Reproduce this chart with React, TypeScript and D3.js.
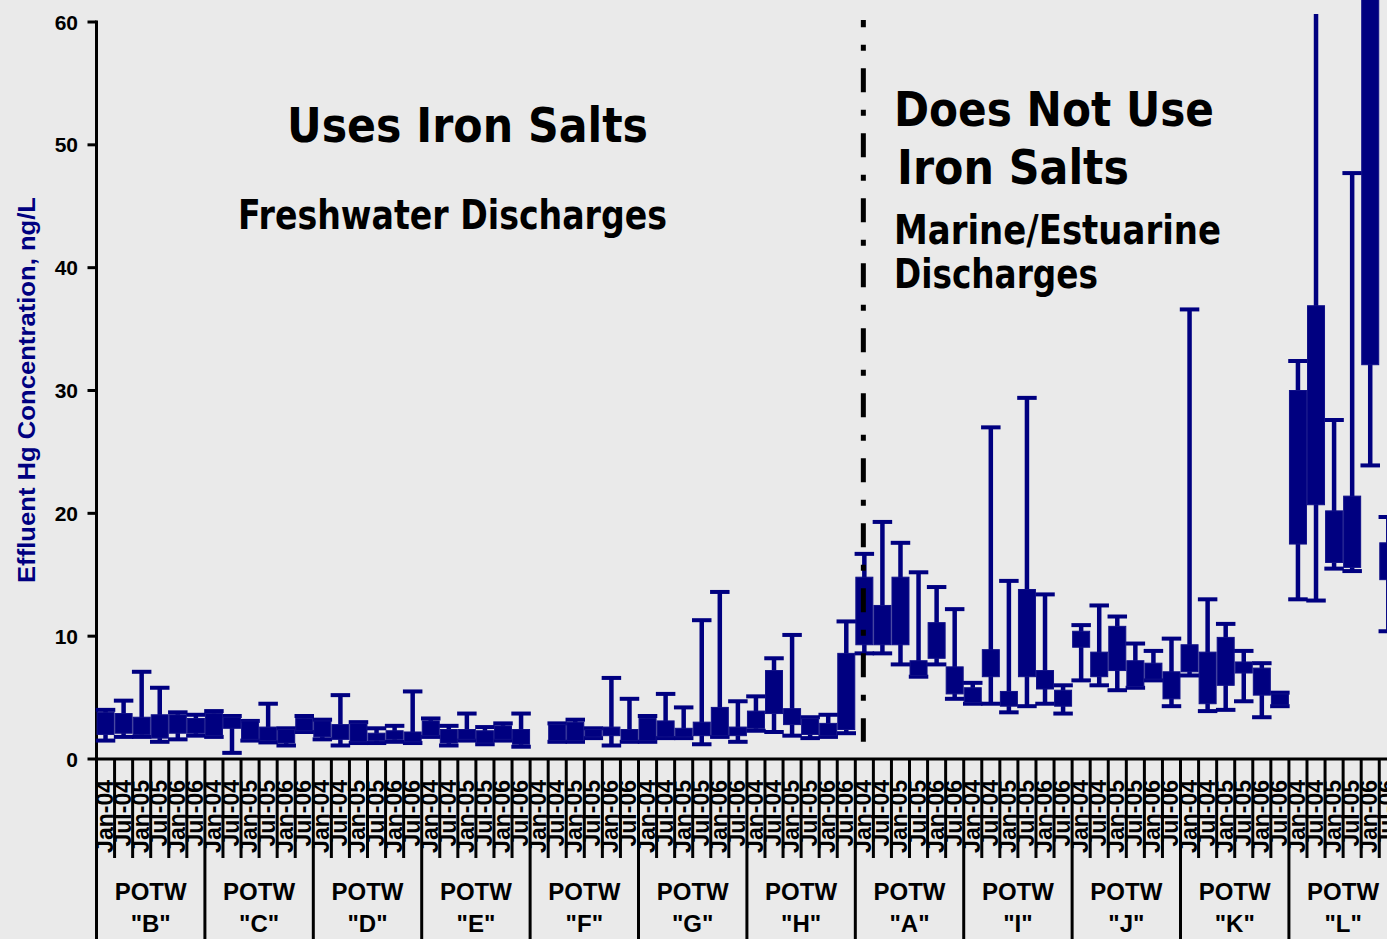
import React from "react";
import * as d3 from "d3";

// ---------- data ----------
const potws = ['"B"', '"C"', '"D"', '"E"', '"F"', '"G"', '"H"', '"A"', '"I"', '"J"', '"K"', '"L"'];
const periods = ["Jan-04", "Jul-04", "Jan-05", "Jul-05", "Jan-06", "Jul-06"];
const yTicks = [0, 10, 20, 30, 40, 50, 60];

// whisker top (maximum), ng/L — 6 periods per POTW
const whiskerMax: (number | null)[] = [
  4.0, 4.75, 7.1, 5.8, 3.8, 3.6, // B
  3.9, 3.5, 3.1, 4.5, 2.5, 3.5, // C
  3.2, 5.2, 3.0, 2.5, 2.7, 5.5, // D
  3.3, 2.7, 3.7, 2.6, 2.9, 3.7, // E
  null, 2.9, 3.2, 2.5, 6.6, 4.9, // F
  3.5, 5.3, 4.2, 11.3, 13.6, 4.7, // G
  5.1, 8.2, 10.1, 3.4, 3.6, 11.2, // H
  16.7, 19.3, 17.6, 15.2, 14.0, 12.2, // A
  6.2, 27.0, 14.5, 29.4, 13.4, 6.0, // I
  10.9, 12.5, 11.6, 9.4, 8.8, 9.8, // J
  36.6, 13.0, 11.0, 8.8, 7.8, 5.4, // K
  32.4, 70, 27.6, 47.7, 80, 19.7, // L
];
// box top
const boxHigh: (number | null)[] = [
  3.8, 3.7, 3.4, 3.6, 3.6, 3.3,
  3.7, 3.4, 3.1, 2.6, 2.4, 3.3,
  3.1, 2.8, 2.9, 2.1, 2.3, 2.2,
  3.1, 2.4, 2.4, 2.3, 2.7, 2.4,
  null, 2.8, 3.0, 2.4, 2.6, 2.4,
  3.3, 3.1, 2.5, 3.0, 4.2, 2.6,
  3.9, 7.2, 4.1, 3.3, 2.9, 8.6,
  14.8, 12.5, 14.8, 8.0, 11.1, 7.5,
  5.8, 8.9, 5.5, 13.8, 7.2, 5.6,
  10.4, 8.7, 10.8, 8.0, 7.8, 7.1,
  9.3, 8.7, 9.9, 7.9, 7.4, 5.3,
  30.0, 36.9, 20.2, 21.4, 80, 17.6,
];
// box bottom
const boxLow: (number | null)[] = [
  2.0, 2.1, 2.0, 1.7, 2.1, 2.1,
  1.9, 2.5, 1.6, 1.5, 1.3, 2.3,
  1.8, 1.6, 1.4, 1.5, 1.6, 1.4,
  1.9, 1.3, 1.6, 1.3, 1.6, 1.2,
  null, 1.5, 1.5, 1.8, 1.9, 1.5,
  1.5, 1.8, 1.8, 1.9, 1.9, 1.9,
  2.5, 3.7, 2.8, 2.0, 1.9, 2.4,
  9.3, 9.3, 9.3, 6.8, 8.2, 5.3,
  4.6, 6.7, 4.3, 6.7, 5.7, 4.3,
  9.1, 6.7, 7.2, 5.9, 6.5, 4.9,
  7.1, 4.5, 6.0, 7.0, 5.2, 4.4,
  17.5, 20.7, 16.0, 15.6, 32.1, 14.6,
];
// whisker bottom (minimum)
const whiskerMin: (number | null)[] = [
  1.5, 1.8, 1.8, 1.4, 1.6, 1.9,
  1.8, 0.5, 1.5, 1.35, 1.1, 2.2,
  1.6, 1.1, 1.3, 1.3, 1.4, 1.3,
  1.8, 1.1, 1.5, 1.2, 1.5, 1.0,
  null, 1.4, 1.4, 1.7, 1.1, 1.4,
  1.4, 1.7, 1.7, 1.2, 1.8, 1.4,
  2.3, 2.2, 1.9, 1.7, 1.8, 2.1,
  8.6, 8.6, 7.7, 6.7, 7.7, 4.9,
  4.5, 4.5, 3.8, 4.3, 4.5, 3.7,
  6.4, 6.0, 5.6, 5.8, 6.4, 4.3,
  6.8, 3.9, 4.0, 4.7, 3.4, 4.3,
  13.0, 12.9, 15.5, 15.3, 23.9, 10.4,
];

// ---------- layout ----------
const W = 1387;
const H = 939;
const X0 = 96.5;
const CAT_W = 18.067;
const NAVY = "#000080";
const BG = "#EAEAEA";

const cats = potws.flatMap((p, gi) => periods.map((per, pi) => `${gi}|${pi}`));
const x = d3.scaleBand<string>().domain(cats).range([X0, X0 + cats.length * CAT_W]).padding(0);
const xGroup = d3.scaleBand<string>().domain(potws).range([X0, X0 + cats.length * CAT_W]).padding(0);
const y = d3.scaleLinear().domain([0, 60]).range([759, 22]);

const boxW = 17;
const capW = 19.5;

export default function App() {
  const bw = x.bandwidth();
  const gw = xGroup.bandwidth();
  const dividerX = (x(`7|0`) as number) + bw / 2 - 1;

  return (
    <div style={{ position: "absolute", left: 0, top: 0, width: W, height: H, background: BG, overflow: "hidden" }}>
      <svg width={W} height={H} style={{ display: "block" }}>
        <defs>
          <clipPath id="whiskerClip">
            <rect x={0} y={y(60.65)} width={W} height={H} />
          </clipPath>
        </defs>
        <rect x={0} y={0} width={W} height={H} fill={BG} />

        {/* y axis */}
        <line x1={X0} x2={X0} y1={y(60) - 1.5} y2={H} stroke="#000" strokeWidth={3} />
        {yTicks.map((t) => (
          <g key={t}>
            <line x1={X0 - 9} x2={X0} y1={y(t)} y2={y(t)} stroke="#000" strokeWidth={3} />
            <text
              x={78}
              y={y(t) + 7.5}
              textAnchor="end"
              fontFamily="'Liberation Sans', Arial, sans-serif"
              fontWeight="bold"
              fontSize={21}
              fill="#000"
            >
              {t}
            </text>
          </g>
        ))}
        <text
          transform={`translate(35,390) rotate(-90)`}
          textAnchor="middle"
          fontFamily="'Liberation Sans', Arial, sans-serif"
          fontWeight="bold"
          fontSize={24}
          fill={NAVY}
          textLength={386}
          lengthAdjust="spacingAndGlyphs"
        >
          Effluent Hg Concentration, ng/L
        </text>

        {/* whiskers and caps */}
        <g clipPath="url(#whiskerClip)">
          {cats.map((c, i) => {
            const hi = whiskerMax[i];
            const lo = whiskerMin[i];
            if (hi == null || lo == null) return null;
            const cx = (x(c) as number) + bw / 2;
            return (
              <g key={c}>
                <line x1={cx} x2={cx} y1={y(hi)} y2={y(lo)} stroke={NAVY} strokeWidth={4.5} />
                <line x1={cx - capW / 2} x2={cx + capW / 2} y1={y(hi)} y2={y(hi)} stroke={NAVY} strokeWidth={4} />
                <line x1={cx - capW / 2} x2={cx + capW / 2} y1={y(lo)} y2={y(lo)} stroke={NAVY} strokeWidth={4} />
              </g>
            );
          })}
        </g>
        {/* boxes */}
        <g>
          {cats.map((c, i) => {
            const q3 = boxHigh[i];
            const q1 = boxLow[i];
            if (q3 == null || q1 == null) return null;
            const cx = (x(c) as number) + bw / 2;
            const top = Math.max(y(q3), -5);
            return (
              <rect
                key={c}
                x={cx - boxW / 2}
                y={top}
                width={boxW}
                height={Math.max(y(q1) - top, 1)}
                fill={NAVY}
                stroke="#101088"
                strokeWidth={1}
              />
            );
          })}
        </g>

        {/* dividing line */}
        <line
          x1={dividerX}
          x2={dividerX}
          y1={y(60) - 2}
          y2={y(1.4)}
          stroke="#000"
          strokeWidth={5}
          strokeDasharray="24 17.5 6 17.5"
          strokeDashoffset={16.7}
        />

        {/* x axis */}
        <line x1={X0} x2={W + 20} y1={y(0)} y2={y(0)} stroke="#000" strokeWidth={3} />
        {cats.map((c, i) =>
          i % 6 !== 0 ? (
            <line key={"t" + c} x1={x(c) as number} x2={x(c) as number} y1={y(0)} y2={858} stroke="#000" strokeWidth={3} />
          ) : null
        )}
        {potws.map((p) => (
          <line
            key={"g" + p}
            x1={xGroup(p) as number}
            x2={xGroup(p) as number}
            y1={y(0)}
            y2={H}
            stroke="#000"
            strokeWidth={3}
          />
        ))}
        {cats.map((c, i) => {
          const cx = (x(c) as number) + bw / 2;
          return (
            <text
              key={"l" + c}
              transform={`translate(${cx + 7},780) rotate(-90)`}
              textAnchor="end"
              fontFamily="'Liberation Sans', Arial, sans-serif"
              fontWeight="bold"
              fontSize={23}
              fill="#000"
            >
              {periods[i % 6]}
            </text>
          );
        })}
        {potws.map((p) => {
          const cx = (xGroup(p) as number) + gw / 2;
          return (
            <g key={"p" + p}>
              <text
                x={cx}
                y={900}
                textAnchor="middle"
                fontFamily="'Liberation Sans', Arial, sans-serif"
                fontWeight="bold"
                fontSize={24}
                fill="#000"
              >
                POTW
              </text>
              <text
                x={cx}
                y={932}
                textAnchor="middle"
                fontFamily="'Liberation Sans', Arial, sans-serif"
                fontWeight="bold"
                fontSize={24}
                fill="#000"
              >
                {p}
              </text>
            </g>
          );
        })}

        {/* annotations */}
        {[
          { t: "Uses Iron Salts", x: 287, y: 142, s: 48, l: 361 },
          { t: "Freshwater Discharges", x: 238, y: 229, s: 40, l: 429 },
          { t: "Does Not Use", x: 894, y: 126, s: 48, l: 320 },
          { t: "Iron Salts", x: 897, y: 184, s: 48, l: 232 },
          { t: "Marine/Estuarine", x: 894, y: 244, s: 40, l: 327 },
          { t: "Discharges", x: 894, y: 288, s: 40, l: 204 },
        ].map((a) => (
          <text
            key={a.t + a.y}
            x={a.x}
            y={a.y}
            fontFamily="'DejaVu Sans', Verdana, sans-serif"
            fontWeight="bold"
            fontSize={a.s}
            fill="#000"
            textLength={a.l}
            lengthAdjust="spacingAndGlyphs"
          >
            {a.t}
          </text>
        ))}
      </svg>
    </div>
  );
}
